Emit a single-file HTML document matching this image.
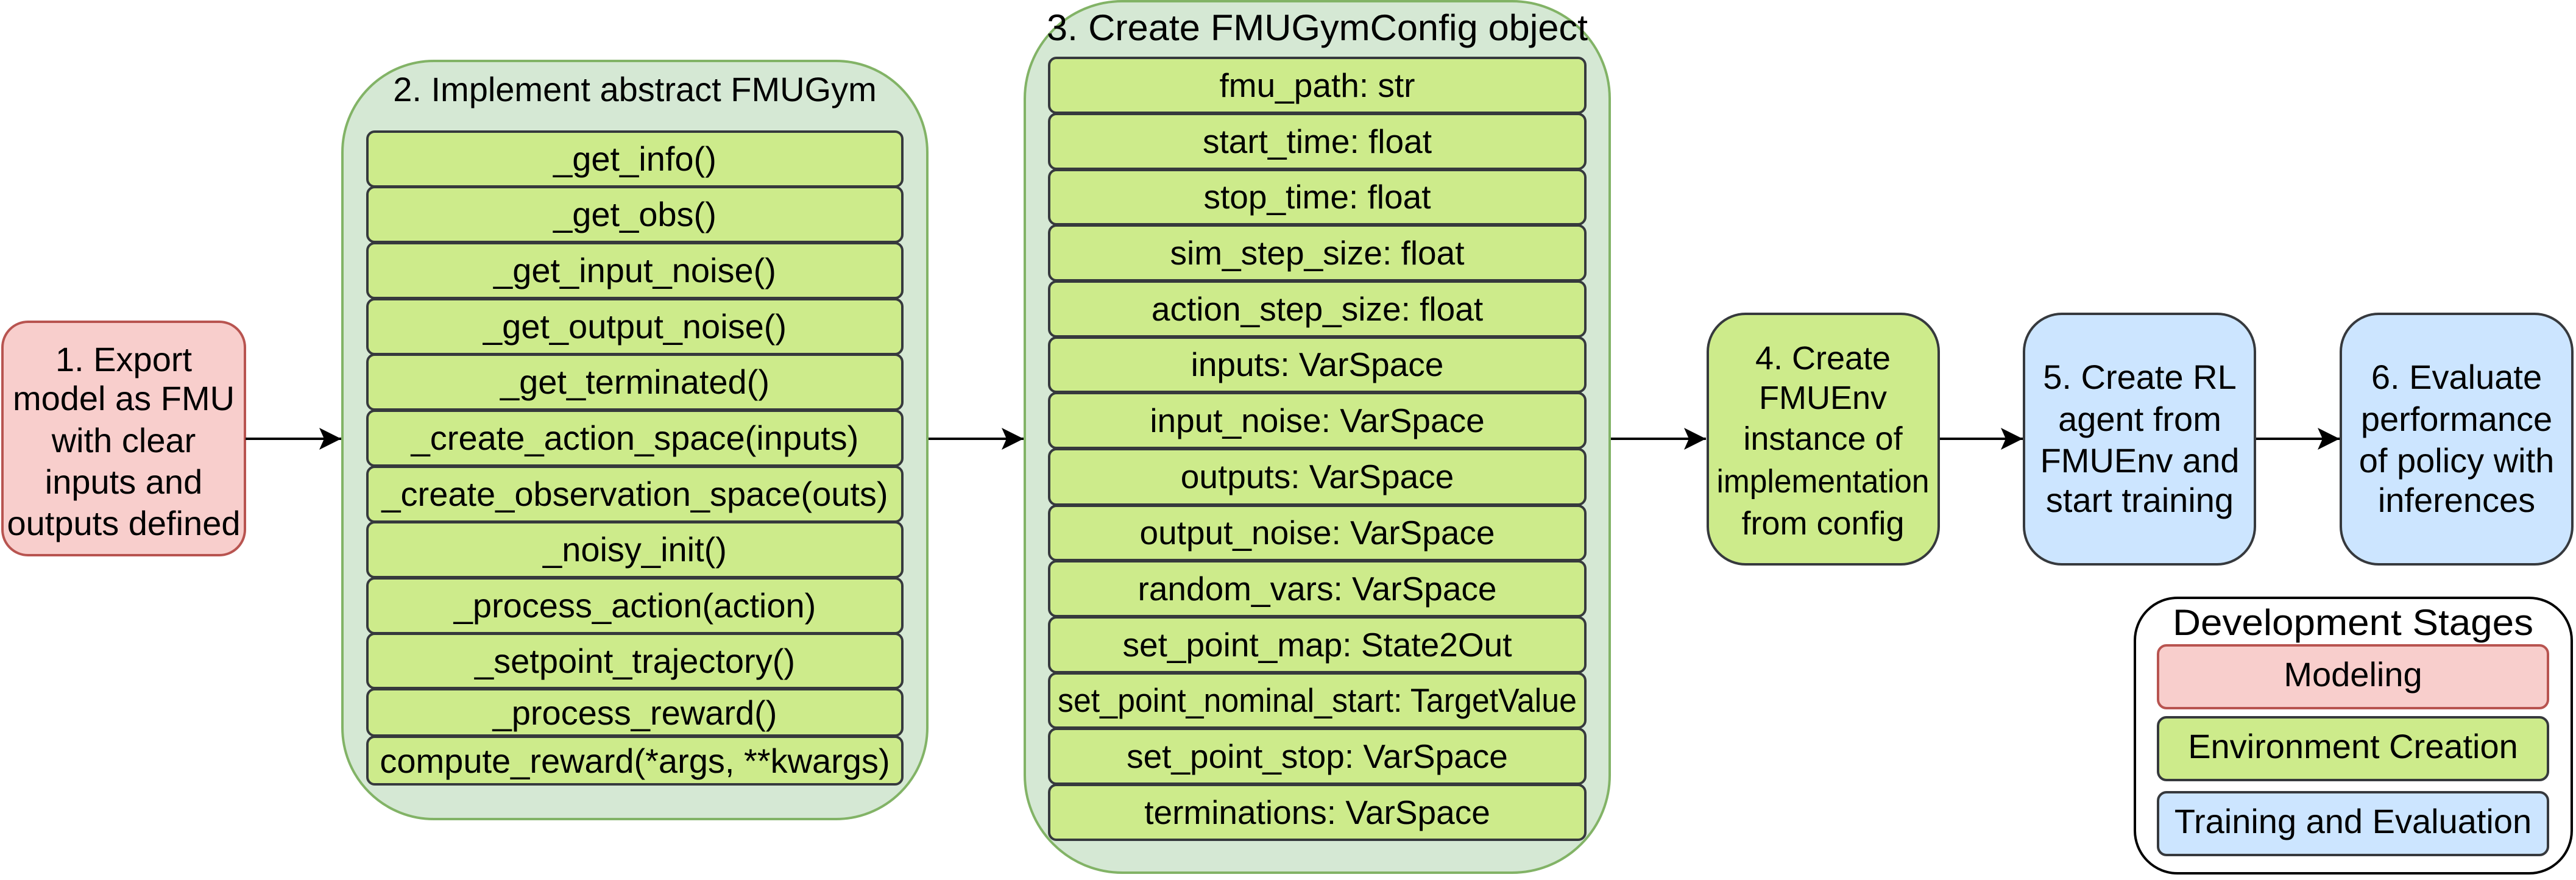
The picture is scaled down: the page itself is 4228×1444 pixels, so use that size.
<!DOCTYPE html>
<html><head><meta charset="utf-8"><style>
html,body{margin:0;padding:0;background:#fff;}
svg{display:block;}
text{font-family:"Liberation Sans",Arial,sans-serif;fill:#000;}
</style></head><body>
<svg width="4228" height="1444" viewBox="0 0 4228 1444" xmlns="http://www.w3.org/2000/svg">
<defs>
<marker id="ah" markerUnits="userSpaceOnUse" markerWidth="40" markerHeight="40" viewBox="0 0 40 40" refX="38" refY="20" orient="auto">
<path d="M2,2 L38,20 L2,38 L10,20 Z" fill="#000"/>
</marker>
</defs>
<rect x="4" y="528" width="398" height="383" rx="42" fill="#f8cecc" stroke="#b85450" stroke-width="4"/>
<g font-size="56" text-anchor="middle">
<text x="203" y="609">1. Export</text>
<text x="203" y="673">model as FMU</text>
<text x="203" y="742">with clear</text>
<text x="203" y="810">inputs and</text>
<text x="203" y="878">outputs defined</text>
</g>
<g stroke="#000" stroke-width="4" marker-end="url(#ah)">
<line x1="403" y1="720" x2="560" y2="720"/>
<line x1="1524" y1="720" x2="1680" y2="720"/>
<line x1="2644" y1="720" x2="2800" y2="720"/>
<line x1="3183" y1="720" x2="3320" y2="720"/>
<line x1="3703" y1="720" x2="3840" y2="720"/>
</g>
<rect x="562" y="100" width="960" height="1244" rx="150" fill="#d5e8d4" stroke="#82b366" stroke-width="4"/>
<text x="1042" y="166" font-size="56" text-anchor="middle">2. Implement abstract FMUGym</text>
<g fill="#cdeb8b" stroke="#36393d" stroke-width="4">
<rect x="603" y="216" width="878" height="90" rx="12"/>
<rect x="603" y="307" width="878" height="90" rx="12"/>
<rect x="603" y="399" width="878" height="90" rx="12"/>
<rect x="603" y="491" width="878" height="90" rx="12"/>
<rect x="603" y="582" width="878" height="90" rx="12"/>
<rect x="603" y="674" width="878" height="90" rx="12"/>
<rect x="603" y="766" width="878" height="90" rx="12"/>
<rect x="603" y="857" width="878" height="90" rx="12"/>
<rect x="603" y="949" width="878" height="90" rx="12"/>
<rect x="603" y="1040" width="878" height="89" rx="12"/>
<rect x="603" y="1131" width="878" height="76" rx="12"/>
<rect x="603" y="1209" width="878" height="78" rx="12"/>
</g>
<g font-size="56" text-anchor="middle">
<text x="1042" y="280">_get_info()</text>
<text x="1042" y="371">_get_obs()</text>
<text x="1042" y="463">_get_input_noise()</text>
<text x="1042" y="555">_get_output_noise()</text>
<text x="1042" y="646">_get_terminated()</text>
<text x="1042" y="738">_create_action_space(inputs)</text>
<text x="1042" y="830">_create_observation_space(outs)</text>
<text x="1042" y="921">_noisy_init()</text>
<text x="1042" y="1013">_process_action(action)</text>
<text x="1042" y="1104">_setpoint_trajectory()</text>
<text x="1042" y="1189">_process_reward()</text>
<text x="1042" y="1268">compute_reward(*args, **kwargs)</text>
</g>
<rect x="1682" y="2" width="960" height="1430" rx="160" fill="#d5e8d4" stroke="#82b366" stroke-width="4"/>
<text x="2162" y="66" font-size="60" text-anchor="middle" textLength="888" lengthAdjust="spacingAndGlyphs">3. Create FMUGymConfig object</text>
<g fill="#cdeb8b" stroke="#36393d" stroke-width="4">
<rect x="1722" y="95" width="880" height="90" rx="12"/>
<rect x="1722" y="187" width="880" height="90" rx="12"/>
<rect x="1722" y="279" width="880" height="89" rx="12"/>
<rect x="1722" y="370" width="880" height="90" rx="12"/>
<rect x="1722" y="462" width="880" height="90" rx="12"/>
<rect x="1722" y="554" width="880" height="89" rx="12"/>
<rect x="1722" y="645" width="880" height="90" rx="12"/>
<rect x="1722" y="737" width="880" height="91" rx="12"/>
<rect x="1722" y="830" width="880" height="89" rx="12"/>
<rect x="1722" y="921" width="880" height="90" rx="12"/>
<rect x="1722" y="1013" width="880" height="90" rx="12"/>
<rect x="1722" y="1105" width="880" height="89" rx="12"/>
<rect x="1722" y="1196" width="880" height="90" rx="12"/>
<rect x="1722" y="1288" width="880" height="90" rx="12"/>
</g>
<g font-size="55" text-anchor="middle">
<text x="2162" y="159">fmu_path: str</text>
<text x="2162" y="251">start_time: float</text>
<text x="2162" y="342">stop_time: float</text>
<text x="2162" y="434">sim_step_size: float</text>
<text x="2162" y="526">action_step_size: float</text>
<text x="2162" y="617">inputs: VarSpace</text>
<text x="2162" y="709">input_noise: VarSpace</text>
<text x="2162" y="801">outputs: VarSpace</text>
<text x="2162" y="893">output_noise: VarSpace</text>
<text x="2162" y="985">random_vars: VarSpace</text>
<text x="2162" y="1077">set_point_map: State2Out</text>
<text x="2162" y="1168" textLength="852" lengthAdjust="spacingAndGlyphs">set_point_nominal_start: TargetValue</text>
<text x="2162" y="1260">set_point_stop: VarSpace</text>
<text x="2162" y="1352">terminations: VarSpace</text>
</g>
<rect x="2803" y="515" width="379" height="411" rx="62" fill="#cdeb8b" stroke="#36393d" stroke-width="4"/>
<g font-size="54" text-anchor="middle">
<text x="2992" y="606">4. Create</text>
<text x="2992" y="671">FMUEnv</text>
<text x="2992" y="738">instance of</text>
<text x="2992" y="808" textLength="349" lengthAdjust="spacingAndGlyphs">implementation</text>
<text x="2992" y="877">from config</text>
</g>
<rect x="3322" y="515" width="379" height="411" rx="62" fill="#cce5ff" stroke="#36393d" stroke-width="4"/>
<g font-size="56" text-anchor="middle">
<text x="3512" y="638">5. Create RL</text>
<text x="3512" y="707">agent from</text>
<text x="3512" y="775">FMUEnv and</text>
<text x="3512" y="840">start training</text>
</g>
<rect x="3842" y="515" width="380" height="411" rx="62" fill="#cce5ff" stroke="#36393d" stroke-width="4"/>
<g font-size="56" text-anchor="middle">
<text x="4032" y="638">6. Evaluate</text>
<text x="4032" y="707">performance</text>
<text x="4032" y="775">of policy with</text>
<text x="4032" y="840">inferences</text>
</g>
<rect x="3504" y="981" width="717" height="452" rx="70" fill="#fff" stroke="#000" stroke-width="4"/>
<text x="3862" y="1042" font-size="60" text-anchor="middle" textLength="592" lengthAdjust="spacingAndGlyphs">Development Stages</text>
<rect x="3542" y="1059" width="640" height="103" rx="14" fill="#f8cecc" stroke="#b85450" stroke-width="4"/>
<text x="3862" y="1126" font-size="56" text-anchor="middle">Modeling</text>
<rect x="3542" y="1177" width="640" height="103" rx="14" fill="#cdeb8b" stroke="#36393d" stroke-width="4"/>
<text x="3862" y="1244" font-size="56" text-anchor="middle">Environment Creation</text>
<rect x="3542" y="1300" width="640" height="103" rx="14" fill="#cce5ff" stroke="#36393d" stroke-width="4"/>
<text x="3862" y="1367" font-size="56" text-anchor="middle">Training and Evaluation</text>
</svg>
</body></html>
